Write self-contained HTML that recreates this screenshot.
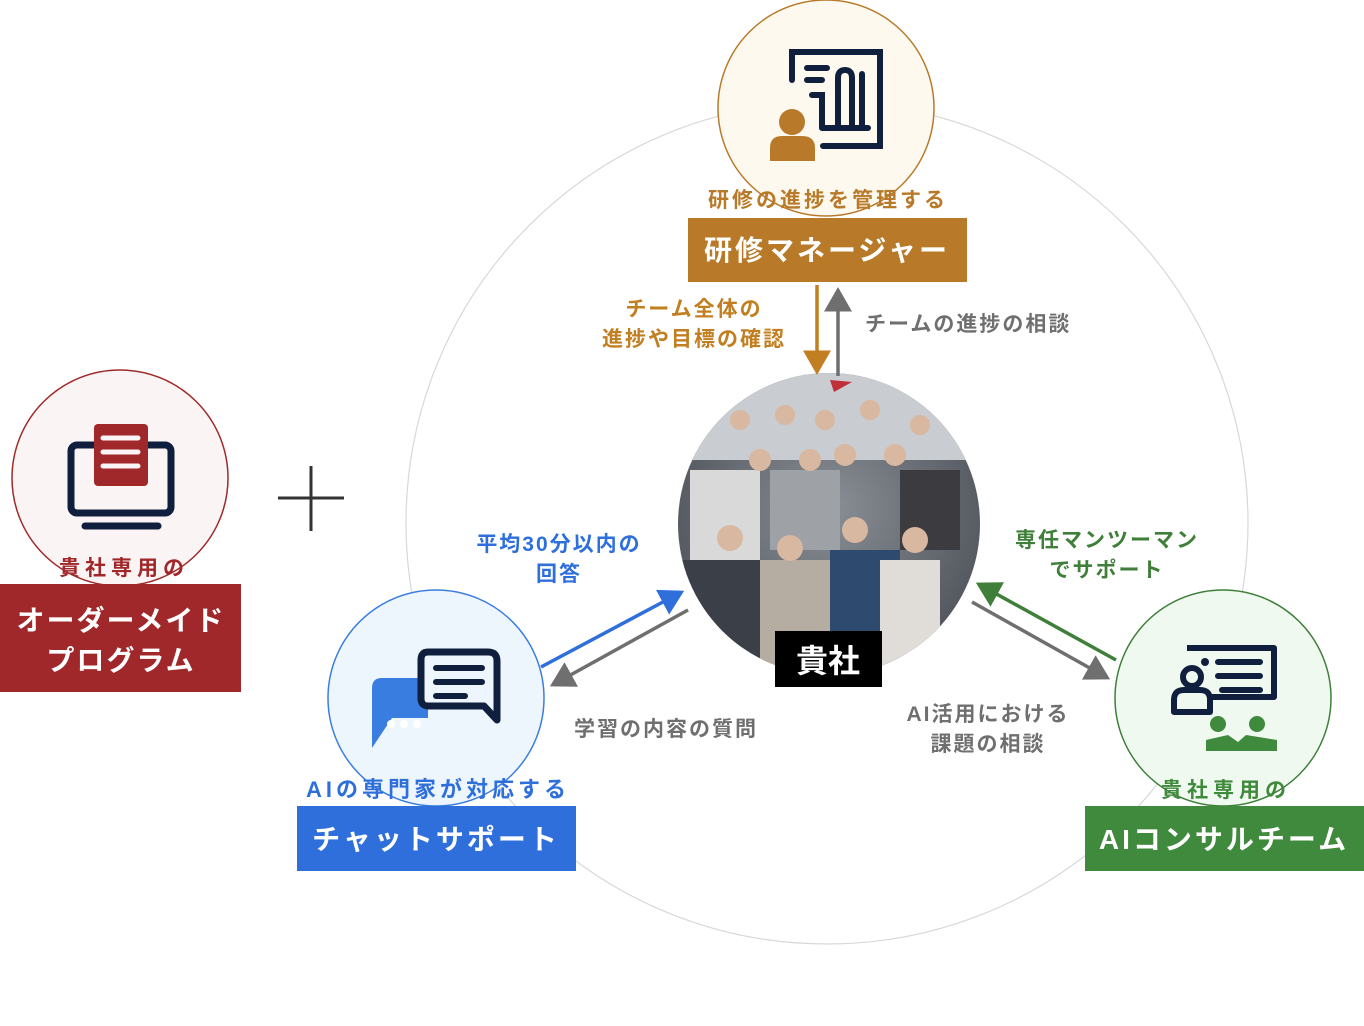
<!DOCTYPE html>
<html><head><meta charset="utf-8"><style>
body{margin:0;width:1364px;height:1021px;background:#fff;overflow:hidden}
svg text{font-family:"Liberation Sans","Noto Sans CJK JP",sans-serif;font-weight:bold}
</style></head><body>
<svg width="1364" height="1021" viewBox="0 0 1364 1021">
<defs>
<radialGradient id="ph" cx="50%" cy="45%" r="60%"><stop offset="0" stop-color="#8a8f96"/><stop offset="1" stop-color="#4a4e55"/></radialGradient>
<clipPath id="pc"><circle cx="829" cy="524" r="151"/></clipPath>
<marker id="ao" markerWidth="8" markerHeight="8" refX="5" refY="4" orient="auto" markerUnits="strokeWidth"><path d="M0,0L7,4L0,8z" fill="#c27f22"/></marker>
<marker id="ag" markerWidth="8" markerHeight="8" refX="5" refY="4" orient="auto" markerUnits="strokeWidth"><path d="M0,0L7,4L0,8z" fill="#6f6f6f"/></marker>
<marker id="ab" markerWidth="8" markerHeight="8" refX="5" refY="4" orient="auto" markerUnits="strokeWidth"><path d="M0,0L7,4L0,8z" fill="#2f6fdc"/></marker>
<marker id="agr" markerWidth="8" markerHeight="8" refX="5" refY="4" orient="auto" markerUnits="strokeWidth"><path d="M0,0L7,4L0,8z" fill="#3f7f3a"/></marker>
</defs>
<circle cx="827" cy="523" r="421" fill="#fff" stroke="#d8d8d8" stroke-width="1.2"/>
<!-- photo -->
<g clip-path="url(#pc)">
<rect x="670" y="370" width="320" height="310" fill="url(#ph)"/>
<rect x="670" y="370" width="320" height="90" fill="#c9ccd0"/>
<rect x="680" y="560" width="80" height="120" fill="#3b3f48"/>
<rect x="760" y="560" width="70" height="120" fill="#b5aca2"/>
<rect x="830" y="550" width="70" height="130" fill="#2e4a6e"/>
<rect x="880" y="560" width="60" height="120" fill="#e0ddd8"/>
<rect x="690" y="470" width="70" height="90" fill="#d9d9d9"/>
<rect x="770" y="470" width="70" height="80" fill="#9ea1a6"/>
<rect x="900" y="470" width="60" height="80" fill="#3b3b40"/>
<g fill="#d8b8a0"><circle cx="730" cy="538" r="13"/><circle cx="790" cy="548" r="13"/><circle cx="855" cy="530" r="13"/><circle cx="915" cy="540" r="13"/><circle cx="760" cy="460" r="11"/><circle cx="810" cy="460" r="11"/><circle cx="845" cy="455" r="11"/><circle cx="895" cy="455" r="11"/><circle cx="740" cy="420" r="10"/><circle cx="785" cy="415" r="10"/><circle cx="825" cy="420" r="10"/><circle cx="870" cy="410" r="10"/><circle cx="920" cy="425" r="10"/></g>
</g>
<path d="M830,380L852,382L834,392z" fill="#c0303a"/>
<rect x="775" y="631" width="107" height="56" fill="#000"/>
<text x="828" y="672" font-size="32" fill="#fff" text-anchor="middle">貴社</text>
<!-- arrows -->
<line x1="817" y1="285" x2="817" y2="368" stroke="#c27f22" stroke-width="3.5" marker-end="url(#ao)"/>
<line x1="838" y1="376" x2="838" y2="294" stroke="#6f6f6f" stroke-width="3.5" marker-end="url(#ag)"/>
<line x1="541" y1="667" x2="678" y2="594" stroke="#2f6fdc" stroke-width="3.5" marker-end="url(#ab)"/>
<line x1="688" y1="610" x2="556" y2="683" stroke="#6f6f6f" stroke-width="3.5" marker-end="url(#ag)"/>
<line x1="1116" y1="660" x2="982" y2="586" stroke="#3f7f3a" stroke-width="3.5" marker-end="url(#agr)"/>
<line x1="972" y1="602" x2="1104" y2="676" stroke="#6f6f6f" stroke-width="3.5" marker-end="url(#ag)"/>
<!-- arrow labels -->
<g font-size="21" letter-spacing="2">
<text x="694" y="316" fill="#c27f22" text-anchor="middle">チーム全体の</text>
<text x="694" y="346" fill="#c27f22" text-anchor="middle">進捗や目標の確認</text>
<text x="865" y="331" fill="#6f6f6f">チームの進捗の相談</text>
<text x="559" y="551" fill="#2f6fdc" text-anchor="middle">平均30分以内の</text>
<text x="559" y="581" fill="#2f6fdc" text-anchor="middle">回答</text>
<text x="666" y="736" fill="#6f6f6f" text-anchor="middle">学習の内容の質問</text>
<text x="1107" y="547" fill="#3f7f3a" text-anchor="middle">専任マンツーマン</text>
<text x="1107" y="577" fill="#3f7f3a" text-anchor="middle">でサポート</text>
<text x="988" y="721" fill="#6f6f6f" text-anchor="middle">AI活用における</text>
<text x="988" y="751" fill="#6f6f6f" text-anchor="middle">課題の相談</text>
</g>
<!-- top node -->
<circle cx="826" cy="108" r="108" fill="#fdf9ee" stroke="#b87a2a" stroke-width="1.5"/>
<g fill="none" stroke="#0f1f3d" stroke-width="6" stroke-linecap="round">
<path d="M792,80V52H880V146H823"/><path d="M807,68H827M807,80H822M812,95H822V128M838,128V78Q838,70 845,70Q852,70 852,78V128M862,128V74M822,128H868"/></g>
<circle cx="792" cy="122" r="13" fill="#b87a2a"/><path d="M770,161V148Q770,136 782,136H802Q815,136 815,148V161z" fill="#b87a2a"/>
<text x="828" y="207" font-size="21" letter-spacing="3" fill="#b87a28" text-anchor="middle">研修の進捗を管理する</text>
<rect x="688" y="218" width="279" height="64" fill="#b87a28"/>
<text x="827" y="260" font-size="28" fill="#fff" text-anchor="middle" letter-spacing="3">研修マネージャー</text>
<!-- left node -->
<circle cx="120" cy="478" r="108" fill="#fbf4f4" stroke="#9e2a2a" stroke-width="1.5"/>
<rect x="71" y="445" width="100" height="68" rx="6" fill="none" stroke="#0f1f3d" stroke-width="7"/>
<path d="M85,526H158" stroke="#0f1f3d" stroke-width="7" stroke-linecap="round"/>
<rect x="94" y="424" width="54" height="62" rx="4" fill="#a0282a"/>
<g stroke="#fbf4f4" stroke-width="5" stroke-linecap="round"><path d="M103,438H138M103,452H138M103,466H138"/></g>
<text x="124" y="575" font-size="21" letter-spacing="5" fill="#a0282a" text-anchor="middle">貴社専用の</text>
<rect x="0" y="584" width="241" height="108" fill="#a0282a"/>
<text x="121" y="630" font-size="28" fill="#fff" text-anchor="middle" letter-spacing="2">オーダーメイド</text>
<text x="121" y="670" font-size="28" fill="#fff" text-anchor="middle" letter-spacing="2">プログラム</text>
<!-- plus -->
<path d="M278,498H344M311,466V531" stroke="#333" stroke-width="3"/>
<!-- chat node -->
<circle cx="436" cy="698" r="108" fill="#eef6fd" stroke="#3a7de0" stroke-width="1.5"/>
<path d="M378,678H428V718H392L372,748V688Q372,678 382,678z" fill="#3a7de0"/>
<g fill="#fff"><circle cx="391" cy="724" r="4"/><circle cx="404" cy="724" r="4"/><circle cx="417" cy="724" r="4"/></g>
<path d="M428,652H488Q497,652 497,661V720L484,706H428Q421,706 421,698V660Q421,652 428,652z" fill="#eef6fd" stroke="#0f1f3d" stroke-width="7" stroke-linejoin="round"/>
<path d="M436,668H482M436,682H482M436,696H465" stroke="#0f1f3d" stroke-width="6" stroke-linecap="round"/>
<text x="438" y="797" font-size="22" letter-spacing="4" fill="#2f6fdc" text-anchor="middle">AIの専門家が対応する</text>
<rect x="297" y="806" width="279" height="65" fill="#2f6fdc"/>
<text x="436" y="849" font-size="28" fill="#fff" text-anchor="middle" letter-spacing="3">チャットサポート</text>
<!-- green node -->
<circle cx="1223" cy="698" r="108" fill="#f0f9ef" stroke="#3f7f3a" stroke-width="1.5"/>
<path d="M1187,648H1274V697H1210" fill="none" stroke="#0f1f3d" stroke-width="6" stroke-linejoin="round"/>
<circle cx="1205" cy="662" r="4" fill="#0f1f3d"/>
<path d="M1218,662H1260M1218,676H1260M1222,690H1260" stroke="#0f1f3d" stroke-width="6" stroke-linecap="round"/>
<circle cx="1192" cy="677" r="9" fill="none" stroke="#0f1f3d" stroke-width="6"/>
<path d="M1174,712V700Q1174,690 1184,690H1200Q1210,690 1210,700V712z" fill="none" stroke="#0f1f3d" stroke-width="6" stroke-linejoin="round"/>
<circle cx="1218" cy="724" r="8" fill="#3f8a3c"/><circle cx="1257" cy="724" r="8" fill="#3f8a3c"/>
<path d="M1206,751V740L1228,735L1238,742L1246,735L1277,740V751z" fill="#3f8a3c"/>
<text x="1226" y="797" font-size="21" letter-spacing="5" fill="#3f8a3c" text-anchor="middle">貴社専用の</text>
<rect x="1085" y="806" width="279" height="65" fill="#3f8a3c"/>
<text x="1224" y="849" font-size="28" fill="#fff" text-anchor="middle" letter-spacing="3">AIコンサルチーム</text>
</svg>
</body></html>
